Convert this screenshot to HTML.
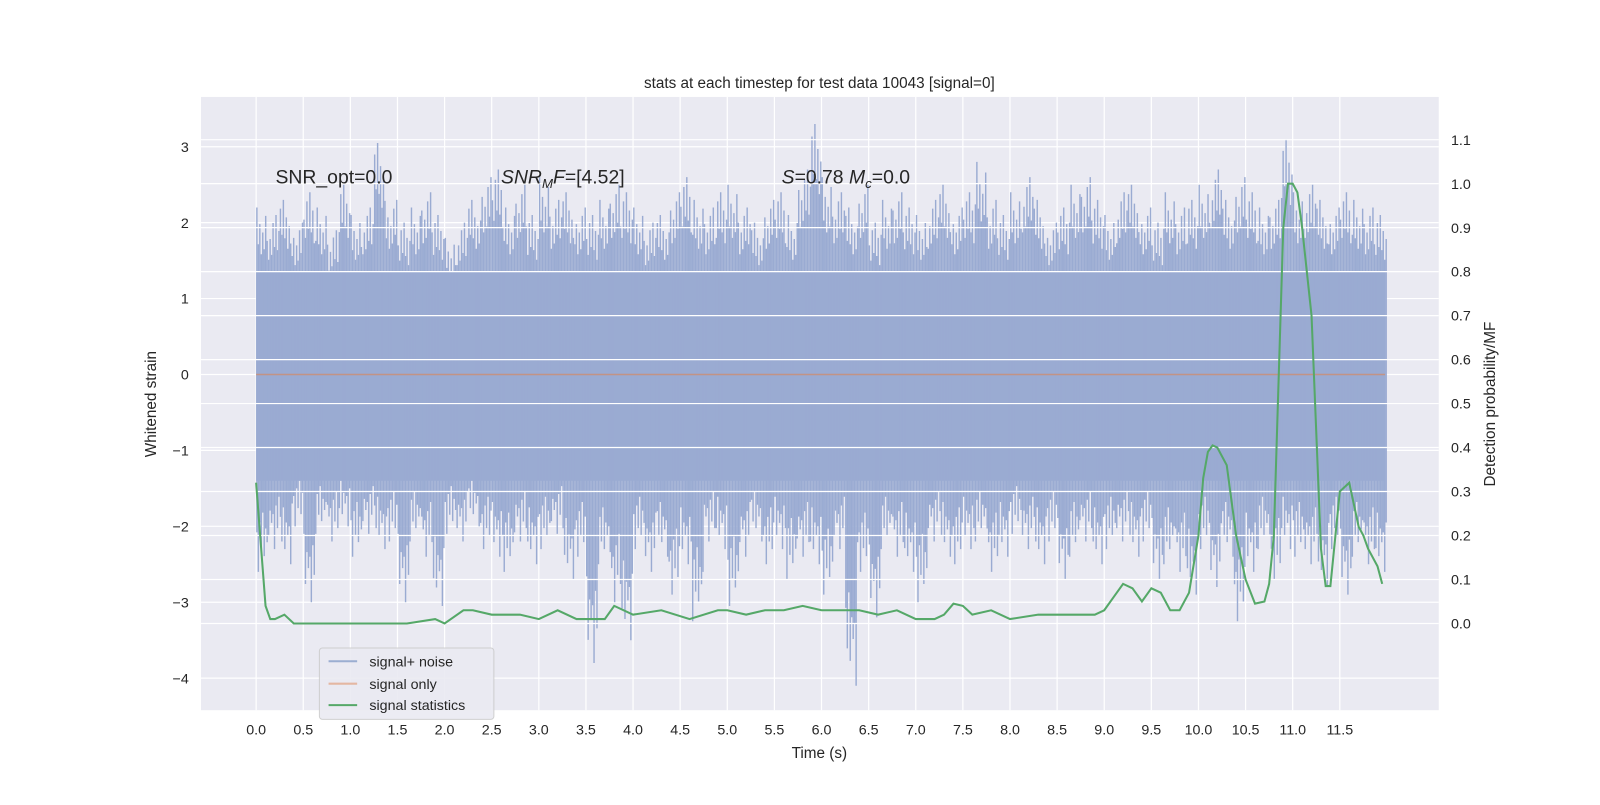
<!DOCTYPE html>
<html><head><meta charset="utf-8"><style>
body{margin:0;background:#fff;}
svg text{font-family:"Liberation Sans","DejaVu Sans",sans-serif;fill:#262626;}
</style></head><body>
<svg id="chart" width="1600" height="800" viewBox="0 0 1600 800">
<rect x="0" y="0" width="1600" height="800" fill="#fff"/>
<g transform="scale(1.0204)">
<rect x="197" y="95" width="1213" height="601" fill="#eaeaf2"/>
<g id="gridL"></g><g id="noise"></g><g id="gridR"></g><g id="sig"></g><g id="stat"></g><g id="axes"></g>
<text x="803" y="86" font-size="15" text-anchor="middle">stats at each timestep for test data 10043 [signal=0]</text>
<text x="803" y="743" font-size="15" text-anchor="middle">Time (s)</text>
<text transform="translate(153,396) rotate(-90)" font-size="15" text-anchor="middle">Whitened strain</text>
<text transform="translate(1465,396) rotate(-90)" font-size="15" text-anchor="middle">Detection probability/MF</text>
<text x="270" y="180" font-size="19">SNR_opt=0.0</text>
<text x="491" y="180" font-size="19"><tspan font-style="italic">SNR</tspan><tspan font-style="italic" font-size="13" dy="4">M</tspan><tspan font-style="italic" dy="-4">F</tspan>=[4.52]</text>
<text x="766" y="180" font-size="19"><tspan font-style="italic">S</tspan>=0.78   <tspan font-style="italic">M</tspan><tspan font-style="italic" font-size="13" dy="4">c</tspan><tspan dy="-4">=0.0</tspan></text>
<g>
<rect x="313" y="635" width="171" height="70" rx="3" fill="#eaeaf2" stroke="#cccccc" opacity="0.9"/>
<line x1="322" y1="648" x2="350" y2="648" stroke="#4c72b0" stroke-opacity="0.5" stroke-width="2"/>
<text x="362" y="653" font-size="14">signal+ noise</text>
<line x1="322" y1="670" x2="350" y2="670" stroke="#dd8452" stroke-opacity="0.5" stroke-width="2"/>
<text x="362" y="675" font-size="14">signal only</text>
<line x1="322" y1="691" x2="350" y2="691" stroke="#55a868" stroke-width="2"/>
<text x="362" y="696" font-size="14">signal statistics</text>
</g>
</g>
</svg>
<script>
const xTicks=[0,0.5,1,1.5,2,2.5,3,3.5,4,4.5,5,5.5,6,6.5,7,7.5,8,8.5,9,9.5,10,10.5,11,11.5];
const yTicks=[-4,-3,-2,-1,0,1,2,3];
const y2Ticks=[0,0.1,0.2,0.3,0.4,0.5,0.6,0.7,0.8,0.9,1.0,1.1];
// noise peaks every 0.125 s
const noiseUpper=[2.2,2.1,2.3,2.0,2.4,2.2,1.9,2.5,2.1,2.2,3.05,2.3,2.0,2.2,2.4,2.1,1.8,2.0,2.3,2.6,2.7,2.2,2.5,2.1,2.6,2.3,2.4,2.2,2.1,2.3,2.5,2.4,2.2,2.0,2.1,2.4,2.6,2.3,2.2,2.4,2.5,2.2,2.0,2.3,2.4,2.1,2.7,3.3,2.6,2.4,2.2,2.5,2.0,2.3,2.4,2.2,2.1,2.3,2.5,2.2,2.4,2.8,2.3,2.1,2.4,2.6,2.3,2.0,2.2,2.5,2.6,2.3,2.1,2.4,2.5,2.2,2.0,2.4,2.2,2.3,2.5,2.7,2.3,2.6,2.4,2.2,2.3,3.1,2.4,2.5,2.3,2.2,2.4,2.3,2.2,2.1];
const noiseLower=[-2.6,-2.3,-2.5,-2.0,-3.0,-2.1,-2.2,-2.0,-2.4,-2.1,-2.3,-2.2,-3.0,-2.2,-2.4,-3.05,-2.1,-2.2,-2.0,-2.3,-2.4,-2.6,-2.2,-2.5,-2.3,-2.1,-2.7,-2.4,-3.8,-2.5,-3.0,-3.5,-2.3,-2.6,-2.4,-2.9,-2.5,-3.25,-2.2,-2.3,-3.05,-2.4,-2.2,-2.5,-2.3,-2.7,-2.4,-2.5,-2.9,-2.3,-4.1,-2.6,-3.2,-2.3,-2.4,-2.6,-3.0,-2.2,-2.4,-2.5,-2.3,-2.2,-2.6,-2.4,-2.1,-2.3,-2.5,-2.2,-2.7,-2.4,-2.2,-2.5,-2.3,-2.2,-2.4,-2.2,-2.7,-2.5,-2.6,-2.9,-2.3,-2.8,-2.4,-3.25,-2.6,-2.3,-2.7,-2.3,-2.4,-2.5,-2.8,-2.3,-2.9,-2.4,-2.5,-2.6];
const statT=[0,0.05,0.1,0.15,0.2,0.3,0.4,0.5,0.7,1.0,1.3,1.6,1.9,2.0,2.2,2.3,2.5,2.8,3.0,3.2,3.4,3.7,3.8,4.0,4.3,4.6,4.9,5.0,5.2,5.4,5.6,5.8,6.0,6.2,6.4,6.6,6.8,7.0,7.2,7.3,7.4,7.5,7.6,7.8,8.0,8.3,8.6,8.9,9.0,9.1,9.2,9.3,9.4,9.5,9.6,9.7,9.8,9.9,10.0,10.05,10.1,10.15,10.2,10.3,10.4,10.5,10.6,10.7,10.75,10.8,10.85,10.9,10.95,11.0,11.05,11.1,11.2,11.3,11.35,11.4,11.5,11.6,11.7,11.75,11.8,11.9,11.95];
const statV=[0.32,0.18,0.04,0.01,0.01,0.02,0.0,0.0,0.0,0.0,0.0,0.0,0.01,0.0,0.03,0.03,0.02,0.02,0.01,0.03,0.01,0.01,0.04,0.02,0.03,0.01,0.03,0.03,0.02,0.03,0.03,0.04,0.03,0.03,0.03,0.02,0.03,0.01,0.01,0.02,0.045,0.04,0.02,0.03,0.01,0.02,0.02,0.02,0.03,0.06,0.09,0.08,0.05,0.08,0.07,0.03,0.03,0.07,0.2,0.33,0.39,0.405,0.40,0.36,0.2,0.1,0.045,0.05,0.09,0.2,0.55,0.9,1.0,1.0,0.98,0.9,0.7,0.17,0.085,0.085,0.3,0.32,0.22,0.2,0.17,0.13,0.09];
const NS='http://www.w3.org/2000/svg';
const X=t=>251+t*92.35, Y=v=>367-v*74.4, Y2=v=>611-v*431;
function mk(tag,attrs,parent){const e=document.createElementNS(NS,tag);for(const k in attrs)e.setAttribute(k,attrs[k]);document.getElementById(parent).appendChild(e);return e;}
xTicks.forEach(t=>{
 const g=mk('line',{x1:X(t),x2:X(t),y1:95,y2:696,stroke:'#fff','stroke-width':1.2},'gridL');
 
 
 const tx=mk('text',{x:X(t),y:720,'font-size':14,'text-anchor':'middle'},'axes');tx.textContent=t.toFixed(1);
 
 
});
yTicks.forEach(v=>{
 const g=mk('line',{x1:197,x2:1410,y1:Y(v),y2:Y(v),stroke:'#fff','stroke-width':1.2},'gridL');
 
 
 const tx=mk('text',{x:185,y:Y(v)+5,'font-size':14,'text-anchor':'end'},'axes');tx.textContent=v<0?'\u2212'+(-v):v;
 
 
});
y2Ticks.forEach(v=>{
 const g=mk('line',{x1:197,x2:1410,y1:Y2(v),y2:Y2(v),stroke:'#fff','stroke-width':1.2},'gridR');
 
 
 const tx=mk('text',{x:1422,y:Y2(v)+5,'font-size':14},'axes');tx.textContent=v.toFixed(1);
 
 
});
const band=mk('rect',{x:X(0),y:Y(1.35),width:X(11.98)-X(0),height:Y(-1.4)-Y(1.35),fill:'#9aabd2'},'noise');


const fu=[1,0.78,0.9,0.72,0.85,0.75,0.95,0.8];
const fl=[0.8,1,0.75,0.88,0.7,0.92,0.78,0.85];
noiseUpper.forEach((u,i)=>{
 const t0=i*0.125;
 for(let j=0;j<8;j++){
  const tt=t0+j*0.0156+0.008;
  const b=mk('line',{x1:X(tt),x2:X(tt),y1:Y(u*fu[(i*3+j)%8]),y2:Y(noiseLower[i]*fl[(i*5+j)%8]),stroke:'#9aabd2','stroke-width':1.4},'noise');
  
  
 }
});
const s=mk('line',{x1:X(0),x2:X(11.98),y1:Y(0),y2:Y(0),stroke:'#dd8452','stroke-opacity':0.6,'stroke-width':1.5},'sig');


const p=mk('polyline',{points:statT.map((t,i)=>X(t)+','+Y2(statV[i])).join(' '),fill:'none',stroke:'#55a868','stroke-width':2},'stat');


</script>
</body></html>
